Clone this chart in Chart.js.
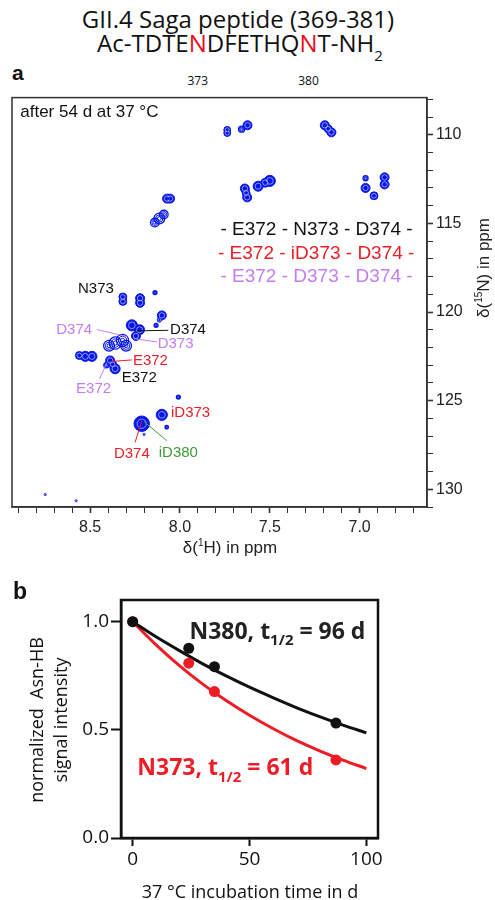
<!DOCTYPE html>
<html>
<head>
<meta charset="utf-8">
<script src="https://cdn.jsdelivr.net/npm/chart.js@4.4.1/dist/chart.umd.min.js"></script>
<style>
  body { margin: 0; width: 495px; height: 900px; background: #fff; position: relative; overflow: hidden; font-family: "Open Sans", sans-serif; color: #111; }
  .title { position: absolute; left: 0; width: 476px; text-align: center; font-size: 24px; line-height: 28px; white-space: nowrap; }
  .n { color: #e8101c; position: relative; }
  .num { position: absolute; left: 50%; transform: translateX(-50%); top: 48px; font-size: 12px; line-height: 14px; color: #111; }
  .sub2 { position: relative; top: 9px; font-size: 15px; }
  .panel { position: absolute; font-family: Arial, "Liberation Sans", sans-serif; font-weight: bold; }
  .wrap { position: absolute; left: 0; }
</style>
</head>
<body>
<div class="title" style="top:5px;">GII.4 Saga peptide (369-381)</div>
<div class="title" style="top:29px; left:2px;">Ac-TDTE<span class="n">N<span class="num">373</span></span>DFETHQ<span class="n">N<span class="num">380</span></span>T-NH<span class="sub2">2</span></div>
<div class="panel" style="left:12px; top:61px; font-size:21px;">a</div>
<div class="wrap" style="top:85px;"><canvas id="chartA" width="495" height="480"></canvas></div>
<div class="wrap" style="top:570px;"><canvas id="chartB" width="495" height="330"></canvas></div>
<div class="panel" style="left:13px; top:578px; font-size:23px;">b</div>
<script>
// ---- panel a: 1H-15N spectrum peaks (1H ppm, 15N ppm, contour radius in 1H ppm, open contour?)
const peakH = [7.737, 7.737, 7.657, 7.624, 7.194, 7.175, 7.157, 7.639, 7.632, 7.626, 7.565, 7.500, 7.525,
  6.967, 6.967, 6.920, 6.861, 6.861, 8.072, 8.055, 8.140, 8.115, 8.090,
  8.318, 8.318, 8.222, 8.222, 8.139, 8.101, 8.115, 8.133, 8.268, 8.225, 8.245,
  8.360, 8.320, 8.300, 8.395, 8.527, 8.490, 8.560, 8.389, 8.361, 8.375, 8.410,
  8.101, 8.213, 8.009, 8.074, 8.200, 8.750, 8.578];
const peakN = [109.72, 109.90, 109.68, 109.46, 109.46, 109.66, 109.86, 113.03, 113.28, 113.53, 112.90, 112.60, 112.70,
  112.45, 113.00, 113.44, 112.40, 112.80, 113.60, 113.60, 114.95, 114.72, 114.50,
  119.15, 119.40, 119.22, 119.48, 118.90, 120.19, 120.45, 120.75, 120.75, 121.00, 121.35,
  121.75, 121.60, 121.90, 121.90, 122.50, 122.50, 122.45, 122.73, 123.20, 122.95, 123.00,
  125.80, 126.30, 124.80, 126.50, 126.90, 130.30, 130.65];
const peakW = [0.019, 0.019, 0.017, 0.025, 0.025, 0.022, 0.025, 0.025, 0.022, 0.025, 0.028, 0.031, 0.025,
  0.014, 0.025, 0.022, 0.025, 0.025, 0.025, 0.025, 0.024, 0.030, 0.024,
  0.022, 0.022, 0.025, 0.025, 0.011, 0.025, 0.012, 0.011, 0.031, 0.028, 0.025,
  0.034, 0.034, 0.030, 0.030, 0.028, 0.028, 0.022, 0.025, 0.028, 0.022, 0.014,
  0.031, 0.043, 0.011, 0.010, 0.006, 0.006, 0.006];
const peakOpen = [0, 0, 1, 0, 0, 0, 0, 0, 0, 0, 0, 0, 0,
  1, 0, 0, 0, 0, 0, 0, 1, 1, 1,
  0, 0, 0, 0, 1, 0, 0, 1, 0, 0, 0,
  1, 1, 1, 1, 0, 0, 0, 0, 0, 0, 1,
  0, 0, 1, 1, 0, 0, 0];
const hTicks = [7.0, 7.5, 8.0, 8.5];
const nTicks = [110, 115, 120, 125, 130];

// ---- panel b: Asn-HB signal decay
const days = [0, 24, 35, 87];
const n380 = [1.0, 0.877, 0.792, 0.531];
const n373 = [1.0, 0.808, 0.677, 0.361];
const fitDays = [0, 10, 20, 30, 40, 50, 60, 70, 80, 90, 100];
const fit380 = [1.0, 0.930, 0.866, 0.805, 0.749, 0.697, 0.649, 0.603, 0.561, 0.522, 0.486];
const fit373 = [1.0, 0.893, 0.797, 0.711, 0.635, 0.567, 0.506, 0.451, 0.403, 0.360, 0.321];

const BLUE = '#0716e8', RED = '#ee1c24', PURPLE = '#c47cf7', GREEN = '#3c9c3c';
const SANS = 'Arial, "Liberation Sans", sans-serif';
const OPEN = '"Open Sans", sans-serif';

const peaks = peakH.map((h, i) => ({ x: h, y: peakN[i], w: peakW[i], open: peakOpen[i] }));
const solid = peaks.filter(p => !p.open);
const hollow = peaks.filter(p => p.open);

// contour radius from the peak width, through the 1H scale
function rad(f) {
  return ctx => {
    if (!ctx.raw) return 0;
    const sc = ctx.chart.scales.x;
    return Math.abs(sc.getPixelForValue(ctx.raw.x) - sc.getPixelForValue(ctx.raw.x + ctx.raw.w)) * f;
  };
}
function ring(data, f, color, width, fill) {
  const bg = fill || 'rgba(0,0,0,0)';
  return { type: 'scatter', data: data, pointRadius: rad(f), pointHoverRadius: rad(f),
    pointBorderColor: color, borderColor: color, pointBackgroundColor: bg, backgroundColor: bg,
    pointBorderWidth: width };
}

// leader lines [h1, n1, h2, n2, colour]
const leaders = [
  [8.462, 120.99, 8.296, 121.38, PURPLE],
  [8.065, 121.03, 8.240, 121.06, '#111'],
  [8.129, 121.68, 8.259, 121.50, PURPLE],
  [8.268, 122.70, 8.379, 122.79, RED],
  [8.448, 123.78, 8.407, 122.88, PURPLE],
  [8.250, 127.36, 8.213, 126.15, RED],
  [8.074, 127.26, 8.200, 126.18, GREEN]
];
const labelsA = [
  { t: 'after 54 d at 37 °C', h: 8.889, n: 108.75, c: '#111', a: 'left', s: 17 },
  { t: '- E372 - N373 - D374 -', h: 6.705, n: 115.35, c: '#111', a: 'right', s: 19 },
  { t: '- E372 - iD373 - D374 -', h: 6.695, n: 116.69, c: RED, a: 'right', s: 19 },
  { t: '- E372 - D373 - D374 -', h: 6.705, n: 118.03, c: PURPLE, a: 'right', s: 19 },
  { t: 'N373', h: 8.468, n: 118.70, c: '#111', a: 'center', s: 15 },
  { t: 'D374', h: 8.589, n: 120.99, c: PURPLE, a: 'center', s: 15 },
  { t: 'D374', h: 8.055, n: 121.03, c: '#111', a: 'left', s: 15 },
  { t: 'D373', h: 8.124, n: 121.77, c: PURPLE, a: 'left', s: 15 },
  { t: 'E372', h: 8.262, n: 122.74, c: RED, a: 'left', s: 15 },
  { t: 'E372', h: 8.324, n: 123.72, c: '#111', a: 'left', s: 15 },
  { t: 'E372', h: 8.481, n: 124.34, c: PURPLE, a: 'center', s: 15 },
  { t: 'iD373', h: 8.050, n: 125.68, c: RED, a: 'left', s: 15 },
  { t: 'D374', h: 8.268, n: 128.01, c: RED, a: 'center', s: 15 },
  { t: 'iD380', h: 8.009, n: 127.92, c: GREEN, a: 'center', s: 15 }
];

function rich(ctx, x, y, parts, align) {
  let w = 0;
  parts.forEach(p => { ctx.font = p.f; w += ctx.measureText(p.t).width; });
  let cx = align === 'left' ? x : x - w / 2;
  ctx.textAlign = 'left';
  parts.forEach(p => { ctx.font = p.f; ctx.fillText(p.t, cx, y + (p.dy || 0)); cx += ctx.measureText(p.t).width; });
}

const decorA = {
  id: 'decorA',
  afterDraw(chart) {
    const { ctx, chartArea: a, scales: { x, y } } = chart;
    ctx.save();
    ctx.strokeStyle = '#333';
    ctx.lineWidth = 1.5;
    ctx.strokeRect(a.left, a.top, a.right - a.left, a.bottom - a.top);
    ctx.textBaseline = 'middle';
    labelsA.forEach(l => {
      ctx.font = l.s + 'px ' + SANS;
      ctx.fillStyle = l.c;
      ctx.textAlign = l.a;
      ctx.fillText(l.t, x.getPixelForValue(l.h), y.getPixelForValue(l.n));
    });
    ctx.fillStyle = '#222';
    ctx.textBaseline = 'alphabetic';
    const f = '17px ' + SANS, fs = '10px ' + SANS;
    rich(ctx, 230, 468, [{ t: 'δ(', f: f }, { t: '1', f: fs, dy: -7 }, { t: 'H) in ppm', f: f }], 'center');
    ctx.translate(489, 183);
    ctx.rotate(-Math.PI / 2);
    rich(ctx, 0, 0, [{ t: 'δ(', f: f }, { t: '15', f: fs, dy: -7 }, { t: 'N) in ppm', f: f }], 'center');
    ctx.restore();
  }
};

const near = (v, list) => list.some(t => Math.abs(v - t) < 1e-6);

new Chart(document.getElementById('chartA'), {
  data: {
    datasets: [
      ...leaders.map(l => ({ type: 'line', data: [{ x: l[0], y: l[1] }, { x: l[2], y: l[3] }],
        borderColor: l[4], borderWidth: 1, pointRadius: 0, fill: false })),
      ring(solid, 0.25, BLUE, 0.6, BLUE),
      ring(solid, 0.6, '#dfe2ff', 0.6),
      ring(solid, 1, BLUE, 1, BLUE),
      ring(hollow, 0.35, BLUE, 1),
      ring(hollow, 0.68, BLUE, 1),
      ring(hollow, 1, BLUE, 1.3)
    ]
  },
  options: {
    responsive: false,
    animation: false,
    events: [],
    layout: { padding: { top: 7, left: 12, right: 0, bottom: 0 } },
    plugins: { legend: { display: false }, tooltip: { enabled: false } },
    scales: {
      x: {
        type: 'linear', position: 'bottom', reverse: true, min: 6.625, max: 8.935,
        grid: { drawOnChartArea: false, tickLength: 6, tickColor: '#333',
          tickWidth: c => near(c.tick.value, hTicks) ? 1.6 : 1 },
        border: { color: '#333', width: 1.5 },
        ticks: { stepSize: 0.1, includeBounds: false, autoSkip: false, maxRotation: 0, padding: 5,
          color: '#222', font: { family: SANS, size: 16 },
          callback: v => near(v, hTicks) ? v.toFixed(1) : '' },
        afterFit: s => { s.height = 58; }
      },
      y: {
        type: 'linear', position: 'right', reverse: true, min: 107.9, max: 131,
        grid: { drawOnChartArea: false, tickLength: 6, tickColor: '#333',
          tickWidth: c => near(c.tick.value, nTicks) ? 1.6 : 1 },
        border: { color: '#333', width: 1.5 },
        ticks: { stepSize: 1, includeBounds: false, autoSkip: false, padding: 3,
          color: '#222', font: { family: SANS, size: 16 },
          callback: v => near(v, nTicks) ? String(v) : '' },
        afterFit: s => { s.width = 68; }
      }
    }
  },
  plugins: [decorA]
});

// ---- panel b
const decorB = {
  id: 'decorB',
  afterDraw(chart) {
    const { ctx, chartArea: a, scales: { x, y } } = chart;
    ctx.save();
    ctx.strokeStyle = '#111';
    ctx.lineWidth = 2.5;
    ctx.strokeRect(a.left, a.top, a.right - a.left, a.bottom - a.top);
    ctx.textBaseline = 'middle';
    const fb = 'bold 23px ' + OPEN, fsb = 'bold 15px ' + OPEN;
    ctx.fillStyle = '#222';
    rich(ctx, x.getPixelForValue(24.3), y.getPixelForValue(0.952),
      [{ t: 'N380, t', f: fb }, { t: '1/2', f: fsb, dy: 9 }, { t: ' = 96 d', f: fb }], 'left');
    ctx.fillStyle = RED;
    rich(ctx, x.getPixelForValue(2.0), y.getPixelForValue(0.32),
      [{ t: 'N373, t', f: fb }, { t: '1/2', f: fsb, dy: 9 }, { t: ' = 61 d', f: fb }], 'left');
    ctx.fillStyle = '#111';
    ctx.font = '18px ' + OPEN;
    ctx.textAlign = 'center';
    ctx.textBaseline = 'alphabetic';
    ctx.fillText('37 °C incubation time in d', 250, 328);
    ctx.translate(0, 150);
    ctx.rotate(-Math.PI / 2);
    ctx.fillText('normalized  Asn-HB', 0, 43);
    ctx.fillText('signal intensity', 0, 67);
    ctx.restore();
  }
};

new Chart(document.getElementById('chartB'), {
  data: {
    datasets: [
      { type: 'scatter', data: days.map((d, i) => ({ x: d, y: n380[i] })), pointRadius: 5.5,
        backgroundColor: '#111', borderColor: '#111', borderWidth: 0 },
      { type: 'scatter', data: days.map((d, i) => ({ x: d, y: n373[i] })), pointRadius: 5.5,
        backgroundColor: RED, borderColor: RED, borderWidth: 0 },
      { type: 'line', data: fitDays.map((d, i) => ({ x: d, y: fit380[i] })), borderColor: '#111',
        borderWidth: 3, pointRadius: 0, cubicInterpolationMode: 'monotone', fill: false },
      { type: 'line', data: fitDays.map((d, i) => ({ x: d, y: fit373[i] })), borderColor: RED,
        borderWidth: 3, pointRadius: 0, cubicInterpolationMode: 'monotone', fill: false }
    ]
  },
  options: {
    responsive: false,
    animation: false,
    events: [],
    layout: { padding: { top: 30, left: 0, right: 117, bottom: 0 } },
    plugins: { legend: { display: false }, tooltip: { enabled: false } },
    scales: {
      x: {
        type: 'linear', min: -5, max: 105,
        grid: { drawOnChartArea: false, tickLength: 8, tickWidth: 2, tickColor: '#111' },
        border: { color: '#111', width: 2.5 },
        ticks: { stepSize: 50, includeBounds: false, maxRotation: 0, padding: 2,
          color: '#111', font: { family: OPEN, size: 19 } },
        afterFit: s => { s.height = 62; }
      },
      y: {
        type: 'linear', min: 0, max: 1.1,
        grid: { drawOnChartArea: false, tickLength: 10, tickWidth: 2, tickColor: '#111' },
        border: { color: '#111', width: 2.5 },
        ticks: { stepSize: 0.5, includeBounds: false, padding: 2,
          color: '#111', font: { family: OPEN, size: 19 }, callback: v => v.toFixed(1) },
        afterFit: s => { s.width = 121; }
      }
    }
  },
  plugins: [decorB]
});
</script>
</body>
</html>
